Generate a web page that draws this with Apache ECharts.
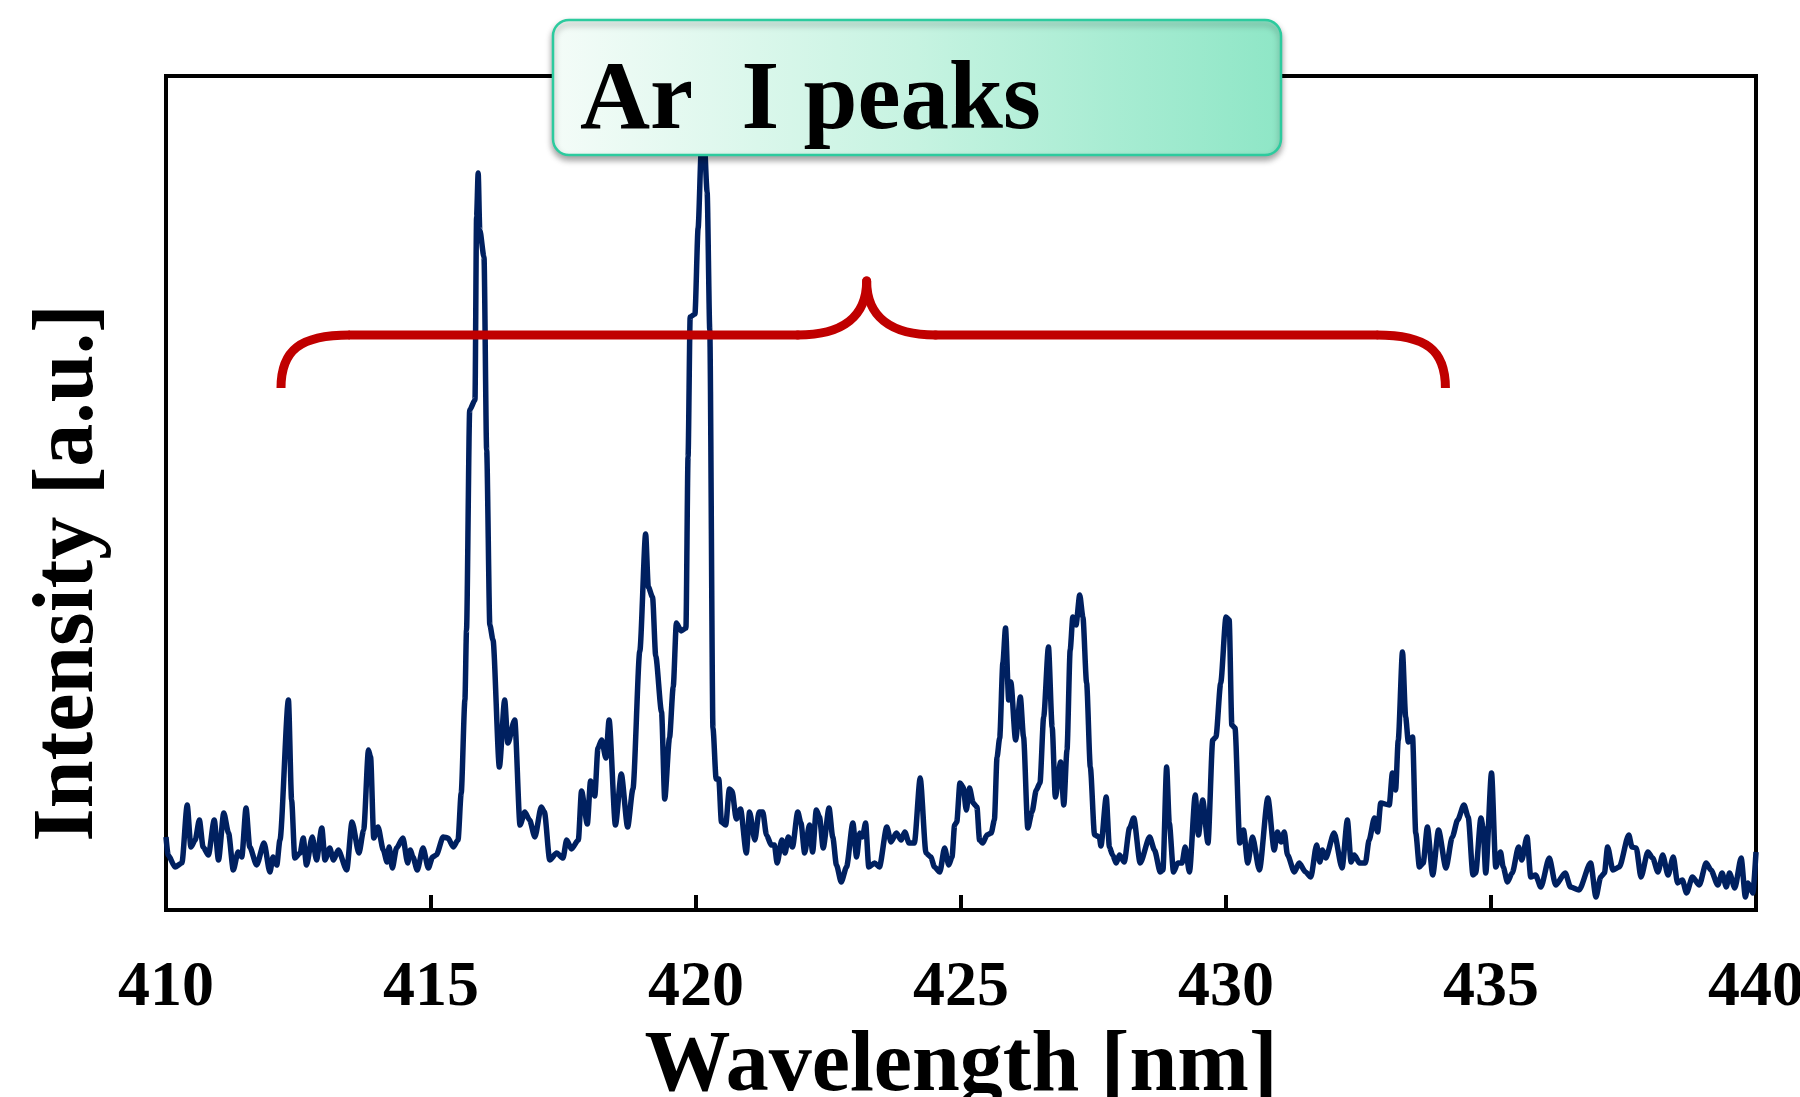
<!DOCTYPE html>
<html>
<head>
<meta charset="utf-8">
<title>Ar I peaks</title>
<script src="https://cdn.jsdelivr.net/npm/echarts@6/dist/echarts.min.js"></script>
<style>
  html, body { margin: 0; padding: 0; background: #fff; }
  #chart { width: 1800px; height: 1097px; }
</style>
</head>
<body>
<div id="chart"></div>
<script>
// wavelength [nm] and intensity [a.u.]
const wavelength = [
  410.00, 410.04, 410.17, 410.30, 410.40, 410.47, 410.55, 410.63, 410.70, 410.80,
  410.91, 410.99, 411.09, 411.18, 411.27, 411.36, 411.43, 411.51, 411.58, 411.71,
  411.85, 411.96, 412.02, 412.09, 412.15, 412.31, 412.37, 412.43, 412.53, 412.59,
  412.65, 412.76, 412.84, 412.94, 413.00, 413.09, 413.16, 413.25, 413.41, 413.51,
  413.64, 413.73, 413.82, 413.86, 413.92, 414.00, 414.10, 414.17, 414.21, 414.27,
  414.35, 414.47, 414.56, 414.61, 414.66, 414.74, 414.85, 414.95, 415.03, 415.10,
  415.23, 415.32, 415.42, 415.51, 415.57, 415.64, 415.67, 415.73, 415.83, 415.86,
  415.89, 415.92, 416.00, 416.05, 416.11, 416.17, 416.29, 416.39, 416.45, 416.58,
  416.68, 416.77, 416.86, 416.96, 417.08, 417.14, 417.24, 417.37, 417.49, 417.56,
  417.65, 417.78, 417.84, 417.95, 418.01, 418.09, 418.15, 418.22, 418.30, 418.36,
  418.48, 418.59, 418.71, 418.81, 418.94, 419.05, 419.10, 419.18, 419.24, 419.35,
  419.41, 419.50, 419.57, 419.63, 419.72, 419.81, 419.85, 419.89, 419.98, 420.04,
  420.10, 420.15, 420.21, 420.26, 420.32, 420.38, 420.43, 420.48, 420.56, 420.63,
  420.68, 420.76, 420.84, 420.95, 421.01, 421.11, 421.19, 421.26, 421.33, 421.42,
  421.48, 421.53, 421.62, 421.68, 421.74, 421.82, 421.92, 421.98, 422.05, 422.14,
  422.20, 422.27, 422.33, 422.40, 422.51, 422.58, 422.65, 422.74, 422.84, 422.96,
  423.03, 423.09, 423.14, 423.20, 423.26, 423.37, 423.46, 423.60, 423.68, 423.78,
  423.87, 423.94, 424.02, 424.12, 424.23, 424.34, 424.43, 424.50, 424.60, 424.69,
  424.77, 424.83, 424.88, 424.92, 424.98, 425.04, 425.10, 425.16, 425.23, 425.30,
  425.35, 425.41, 425.49, 425.57, 425.63, 425.68, 425.73, 425.79, 425.84, 425.90,
  425.94, 426.03, 426.12, 426.18, 426.26, 426.34, 426.42, 426.49, 426.56, 426.65,
  426.72, 426.78, 426.88, 426.94, 427.00, 427.06, 427.11, 427.17, 427.24, 427.30,
  427.37, 427.44, 427.52, 427.61, 427.64, 427.74, 427.80, 427.86, 427.93, 427.99,
  428.08, 428.18, 428.26, 428.38, 428.56, 428.65, 428.76, 428.81, 428.88, 428.93,
  429.01, 429.09, 429.17, 429.23, 429.31, 429.42, 429.48, 429.56, 429.66, 429.75,
  429.81, 429.90, 430.00, 430.06, 430.11, 430.17, 430.26, 430.33, 430.41, 430.50,
  430.63, 430.79, 430.91, 430.97, 431.04, 431.10, 431.16, 431.29, 431.38, 431.50,
  431.60, 431.71, 431.77, 431.82, 431.88, 432.04, 432.19, 432.29, 432.36, 432.42,
  432.52, 432.63, 432.70, 432.80, 432.86, 432.92, 433.08, 433.14, 433.20, 433.25,
  433.33, 433.39, 433.44, 433.52, 433.58, 433.65, 433.72, 433.80, 433.90, 434.01,
  434.15, 434.27, 434.37, 434.49, 434.57, 434.66, 434.71, 434.81, 434.85, 434.90,
  435.01, 435.09, 435.18, 435.23, 435.31, 435.40, 435.52, 435.58, 435.68, 435.75,
  435.84, 435.94, 436.10, 436.22, 436.40, 436.50, 436.66, 436.88, 436.98, 437.07,
  437.14, 437.20, 437.30, 437.42, 437.60, 437.66, 437.74, 437.83, 437.96, 438.05,
  438.15, 438.24, 438.34, 438.44, 438.52, 438.61, 438.69, 438.80, 438.93, 439.06,
  439.15, 439.28, 439.36, 439.44, 439.50, 439.60, 439.72, 439.80, 439.85, 439.94,
  440.00
];
const intensity = [
  73, 55, 43, 47, 105, 63, 70, 90, 63, 55,
  90, 50, 97, 77, 40, 58, 53, 102, 63, 45,
  67, 38, 53, 45, 70, 210, 110, 52, 57, 72,
  45, 73, 50, 82, 50, 62, 50, 60, 40, 88,
  57, 80, 160, 153, 72, 83, 60, 48, 63, 42,
  62, 72, 47, 60, 53, 40, 62, 42, 53, 55,
  73, 72, 63, 70, 117, 210, 280, 500, 510, 693,
  737, 680, 653, 460, 285, 270, 143, 210, 167, 190,
  85, 98, 90, 73, 103, 98, 50, 57, 52, 70,
  61, 70, 119, 86, 129, 114, 162, 170, 152, 190,
  85, 136, 83, 121, 259, 376, 323, 313, 254, 198,
  111, 172, 223, 287, 279, 282, 453, 593, 596, 682,
  760, 775, 718, 580, 182, 131, 131, 88, 85, 121,
  119, 91, 101, 57, 98, 70, 98, 98, 75, 65,
  65, 47, 70, 57, 73, 63, 98, 87, 57, 85,
  58, 100, 93, 62, 102, 73, 45, 28, 43, 87,
  53, 77, 73, 87, 43, 47, 43, 83, 68, 77,
  70, 78, 67, 67, 132, 57, 53, 43, 38, 62,
  45, 53, 85, 88, 127, 123, 100, 122, 107, 103,
  70, 67, 75, 77, 90, 153, 172, 247, 282, 210,
  228, 170, 213, 173, 82, 98, 120, 127, 193, 263,
  183, 113, 148, 105, 160, 260, 293, 285, 315, 293,
  227, 143, 75, 73, 64, 113, 63, 55, 47, 55,
  48, 82, 92, 47, 73, 60, 38, 40, 143, 87,
  38, 47, 47, 63, 38, 115, 75, 110, 67, 170,
  173, 227, 293, 290, 185, 182, 67, 80, 47, 73,
  40, 112, 60, 78, 68, 78, 55, 38, 47, 38,
  33, 65, 48, 60, 52, 77, 42, 90, 48, 55,
  47, 47, 70, 92, 78, 107, 105, 137, 120, 170,
  258, 193, 168, 173, 77, 43, 47, 83, 35, 80,
  42, 73, 90, 105, 93, 35, 37, 92, 83, 37,
  137, 43, 58, 43, 28, 37, 63, 50, 73, 33,
  35, 23, 52, 25, 37, 23, 20, 47, 13, 33,
  37, 63, 40, 43, 75, 63, 62, 33, 58, 52,
  38, 55, 35, 53, 27, 30, 17, 33, 25, 47,
  40, 25, 37, 23, 37, 22, 52, 13, 27, 17,
  58
];
const xTicks = { min: 410, max: 440, step: 5 };
const yRange = { min: 0, max: 834 };

// curly brace marking the Ar I peaks, in data units
const braceLeft = 412.17, braceRight = 434.14, braceMid = 423.22;
const braceFoot = 522, braceBar = 575, braceTip = 629;

const serif = '"Liberation Serif", "Times New Roman", serif';

const chart = echarts.init(document.getElementById('chart'));

const option = {
  backgroundColor: '#fff',
  animation: false,
  grid: {
    left: 166, right: 44, top: 76, bottom: 187,
    outerBoundsMode: 'none',
    containLabel: false,
    show: true, borderColor: '#000', borderWidth: 4
  },
  xAxis: {
    type: 'value',
    min: xTicks.min, max: xTicks.max, interval: xTicks.step,
    name: 'Wavelength [nm]',
    nameLocation: 'middle',
    nameGap: 108,
    nameTextStyle: { fontFamily: serif, fontWeight: 'bold', fontSize: 86, color: '#000' },
    axisLine: { show: true, lineStyle: { color: '#000', width: 4 } },
    axisTick: { show: true, inside: true, length: 15, lineStyle: { color: '#000', width: 4 } },
    axisLabel: { fontFamily: serif, fontWeight: 'bold', fontSize: 64, color: '#000', margin: 46 },
    splitLine: { show: false }
  },
  yAxis: {
    type: 'value',
    min: yRange.min, max: yRange.max,
    axisLine: { show: false },
    axisTick: { show: false },
    axisLabel: { show: false },
    splitLine: { show: false }
  },
  series: [{
    type: 'line',
    data: wavelength.map((w, i) => [w, intensity[i]]),
    symbol: 'none',
    smooth: 0.25,
    smoothMonotone: 'x',
    lineStyle: { color: '#002060', width: 5.5, join: 'round' },
    z: 2
  }]
};
chart.setOption(option);

const px = (x, y) => chart.convertToPixel({ gridIndex: 0 }, [x, y]);
const braceStyle = { stroke: '#C00000', lineWidth: 9, lineCap: 'round', fill: null };
const curve = (p1, c1, c2, p2, cap) => {
  const a = px(...p1), b = px(...c1), c = px(...c2), d = px(...p2);
  return {
    type: 'bezierCurve', z: 10,
    shape: { x1: a[0], y1: a[1], cpx1: b[0], cpy1: b[1], cpx2: c[0], cpy2: c[1], x2: d[0], y2: d[1] },
    style: Object.assign({}, braceStyle, cap ? { lineCap: cap } : {})
  };
};
const segment = (p1, p2) => {
  const a = px(...p1), d = px(...p2);
  return { type: 'line', z: 10, shape: { x1: a[0], y1: a[1], x2: d[0], y2: d[1] }, style: braceStyle };
};
const r = 1.3; // corner reach in nm
const brace = [
  curve([braceLeft, braceFoot], [braceLeft, braceBar - 15], [braceLeft + 0.36, braceBar], [braceLeft + r, braceBar], 'butt'),
  segment([braceLeft + r, braceBar], [braceMid - r, braceBar]),
  curve([braceMid - r, braceBar], [braceMid - 0.42, braceBar], [braceMid, braceBar + 20], [braceMid, braceTip]),
  curve([braceMid, braceTip], [braceMid, braceBar + 20], [braceMid + 0.42, braceBar], [braceMid + r, braceBar]),
  segment([braceMid + r, braceBar], [braceRight - r, braceBar]),
  curve([braceRight - r, braceBar], [braceRight - 0.36, braceBar], [braceRight, braceBar - 15], [braceRight, braceFoot], 'butt')
];

chart.setOption({
  graphic: brace.concat([
    {
      type: 'rect',
      z: 20,
      shape: { x: 553, y: 20, width: 728, height: 135, r: 16 },
      style: {
        fill: {
          type: 'linear', x: 0, y: 0, x2: 1, y2: 0,
          colorStops: [
            { offset: 0, color: '#F4FCF8' },
            { offset: 0.5, color: '#C6F3E1' },
            { offset: 1, color: '#8EE6C6' }
          ]
        },
        stroke: '#2CCB9E',
        lineWidth: 2.5,
        shadowBlur: 6,
        shadowOffsetY: 4,
        shadowColor: 'rgba(0,0,0,0.35)'
      }
    },
    {
      type: 'text',
      z: 21,
      x: 580, y: 103,
      style: {
        text: 'Ar  I peaks',
        fontFamily: serif, fontWeight: 'bold', fontSize: 97,
        fill: '#000', align: 'left', verticalAlign: 'middle'
      }
    },
    {
      type: 'text',
      x: 70, y: 573,
      rotation: Math.PI / 2,
      style: {
        text: 'Intensity [a.u.]',
        fontFamily: serif, fontWeight: 'bold', fontSize: 86,
        fill: '#000', align: 'center', verticalAlign: 'middle'
      }
    }
  ])
});
</script>
</body>
</html>
